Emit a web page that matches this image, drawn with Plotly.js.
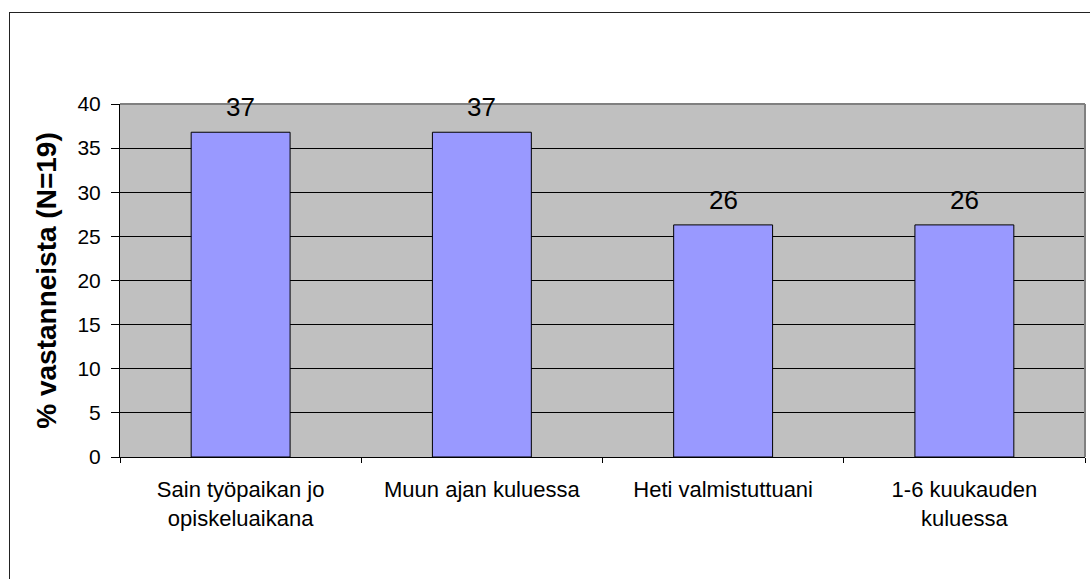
<!DOCTYPE html>
<html>
<head>
<meta charset="utf-8">
<script src="https://cdn.plot.ly/plotly-3.0.1.min.js"></script>
<style>
html,body{margin:0;padding:0;background:#fff;}
#wrap{position:relative;width:1090px;height:579px;overflow:hidden;}
#chart{position:absolute;left:0;top:0;width:1090px;height:579px;}
#frame{position:absolute;left:9px;top:12px;width:1200px;height:700px;border-left:1.5px solid #222;border-top:1.5px solid #222;pointer-events:none;}
</style>
</head>
<body>
<div id="wrap"><div id="chart"></div><div id="frame"></div></div>
<script>
const categories = ["Sain työpaikan jo<br>opiskeluaikana", "Muun ajan kuluessa", "Heti valmistuttuani", "1-6 kuukauden<br>kuluessa"];
const values = [36.8, 36.8, 26.3, 26.3];
const valueLabels = ["37", "37", "26", "26"];
const yTickVals = [0, 5, 10, 15, 20, 25, 30, 35, 40];

const font = "Arial, 'Liberation Sans', sans-serif";

const trace = {
  type: 'bar',
  x: categories,
  y: values,
  marker: {color: '#9999FF', line: {color: '#000', width: 1}},
  hoverinfo: 'none'
};

const annotations = categories.map((c, i) => ({
  x: c, y: values[i], text: valueLabels[i], showarrow: false,
  xref: 'x', yref: 'y', yanchor: 'bottom', yshift: 8,
  font: {family: font, size: 26, color: '#000'}
}));

const layout = {
  width: 1090, height: 579,
  margin: {l: 120, r: 5, t: 104, b: 122},
  paper_bgcolor: 'rgba(0,0,0,0)',
  plot_bgcolor: '#C0C0C0',
  bargap: 0.59,
  showlegend: false,
  font: {family: font, color: '#000'},
  xaxis: {
    type: 'category',
    showline: true, linecolor: '#000', linewidth: 1,
    ticks: 'outside', tickson: 'boundaries', ticklen: 5, tickcolor: '#000',
    tickfont: {family: font, size: 22, color: '#000'},
    ticklabelstandoff: 13,
    showgrid: false, zeroline: false
  },
  yaxis: {
    range: [0, 40], tickvals: yTickVals, ticktext: yTickVals.map(String),
    showline: true, linecolor: '#000', linewidth: 1,
    ticks: 'outside', ticklen: 8, tickcolor: '#000',
    tickfont: {family: font, size: 21, color: '#000'},
    ticklabelstandoff: 6,
    showgrid: true, gridcolor: '#000', gridwidth: 1,
    zeroline: false,
    title: {text: '% vastanneista (N=19)', font: {family: font, size: 28, color: '#000', weight: 'bold'}, standoff: 12}
  },
  shapes: [
    {type: 'line', xref: 'paper', yref: 'paper', x0: 0, x1: 1, y0: 1, y1: 1, line: {color: '#808080', width: 2}, layer: 'above'},
    {type: 'line', xref: 'paper', yref: 'paper', x0: 1, x1: 1, y0: 0, y1: 1, line: {color: '#808080', width: 2}, layer: 'above'}
  ],
  annotations: annotations
};

Plotly.newPlot('chart', [trace], layout, {displayModeBar: false, staticPlot: true});
</script>
</body>
</html>
